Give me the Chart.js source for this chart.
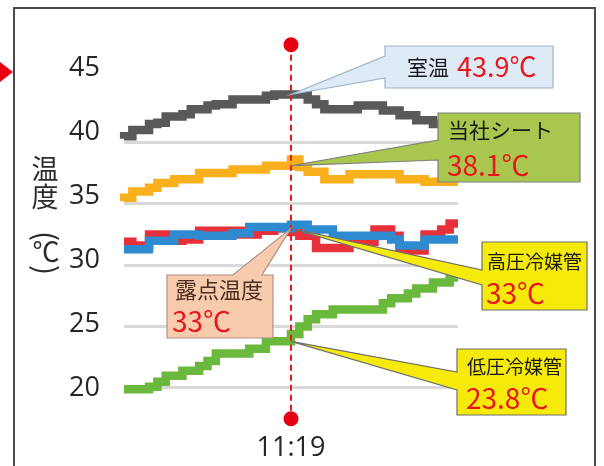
<!DOCTYPE html>
<html lang="ja">
<head>
<meta charset="utf-8">
<script src="https://cdn.jsdelivr.net/npm/chart.js@4.4.1/dist/chart.umd.min.js"></script>
<style>
  html, body { margin: 0; padding: 0; background: #fff; }
  #wrap { width: 604px; height: 466px; position: relative; }
</style>
</head>
<body>
<div id="wrap"><canvas id="tempChart"></canvas></div>
<script>
/* ---- data ---- */
const markIndex = 20;
const markTime = '11:19';

const roomTemp = [40.3, 40.5, 41.0, 41.0, 41.5, 41.6, 42.1, 42.1, 42.3, 42.7, 42.7, 43.0, 43.1, 43.1, 43.5, 43.5, 43.5, 43.5, 43.8, 43.9,
  43.9, 43.9, 43.9, 43.5, 43.1, 42.7, 42.7, 42.7, 42.7, 43.0, 43.0, 43.0, 42.6, 42.6, 42.2, 42.2, 41.8, 41.8, 41.5, 41.5, 41.5];
const sheetTemp = [35.2, 35.5, 36.0, 36.0, 36.3, 36.7, 36.7, 37.0, 37.0, 37.0, 37.5, 37.5, 37.5, 37.5, 37.8, 37.8, 37.8, 37.8, 38.1, 38.1,
  38.1, 38.6, 38.0, 37.6, 37.6, 37.0, 37.0, 37.0, 37.4, 37.4, 37.4, 37.4, 37.4, 37.4, 37.0, 37.0, 37.0, 36.8, 36.8, 36.8, 36.8];
const highPipe = [31.3, 31.3, 31.3, 31.3, 32.0, 32.0, 32.0, 32.5, 32.5, 32.5, 32.4, 32.4, 32.4, 32.4, 32.6, 32.6, 33.1, 33.1, 33.1, 33.1,
  33.0, 33.3, 33.3, 32.9, 32.9, 32.9, 32.4, 32.4, 32.4, 32.4, 32.4, 32.4, 32.4, 32.1, 31.6, 31.6, 31.6, 32.1, 32.1, 32.1, 32.1];
const dewPoint = [31.9, 31.9, 31.6, 31.6, 32.5, 32.5, 32.0, 32.0, 32.1, 32.1, 32.8, 32.8, 32.8, 32.8, 32.8, 32.5, 32.5, 32.8, 32.8, 33.0,
  33.0, 32.7, 32.4, 32.4, 31.4, 31.4, 31.4, 31.4, 31.9, 31.9, 31.9, 32.9, 32.9, 32.4, 31.2, 31.2, 31.2, 32.5, 32.5, 32.9, 33.4];
const lowPipe = [19.9, 19.9, 19.9, 19.9, 20.1, 20.5, 21.0, 21.0, 21.4, 21.4, 21.8, 22.2, 22.8, 22.8, 22.8, 22.8, 23.2, 23.2, 23.8, 23.8,
  23.8, 24.4, 25.0, 25.6, 26.0, 26.0, 26.4, 26.4, 26.4, 26.4, 26.4, 26.4, 26.9, 27.3, 27.3, 27.7, 28.1, 28.1, 28.6, 28.6, 29.0];

const calloutNames = ['室温', '当社シート', '露点温度', '高圧冷媒管', '低圧冷媒管'];
const calloutValues = [43.9, 38.1, 33, 33, 23.8];

const xLabels = Array.from({ length: roomTemp.length }, (_, i) => i === markIndex ? markTime : '');

/* ---- look of the callouts (pixels) ---- */
const calloutStyle = [
  { box: [385, 46, 553, 88], side: 'left', base: [56, 78], fill: '#deebf7', stroke: '#9fb3c8',
    inline: true, name: [407, 67, 21], value: [0, 67, 27] },
  { box: [438, 113, 580, 182], side: 'left', base: [140, 160], fill: '#a9c74e', stroke: '#7f7f7f',
    name: [448, 130, 21], value: [447, 165, 28] },
  { box: [167, 275, 273, 338], side: 'top', base: [233, 262], fill: '#f8cbad', stroke: '#b09088',
    name: [175, 290, 22], value: [172, 321, 28], nameColor: '#4a2e22' },
  { box: [482, 242, 587, 310], side: 'left', base: [270, 285], fill: '#f6ea0a', stroke: '#6f6f6f',
    name: [487, 262, 19], value: [486, 293, 28] },
  { box: [457, 349, 566, 415], side: 'left', base: [372, 390], fill: '#f6ea0a', stroke: '#6f6f6f',
    name: [467, 367, 19], value: [466, 398, 28] }
];

const JP = "'Noto Sans CJK JP', 'Noto Sans', sans-serif";
const NUM = "'Open Sans', 'Noto Sans CJK JP', sans-serif";
const RED = '#e8151b';

function keepFives(axis) {
  axis.ticks = axis.ticks.filter(t => Math.abs(t.value % 5) < 1e-6);
}

/* frame, marker triangle and the vertical axis title */
const framePlugin = {
  id: 'frame',
  beforeDraw(chart) {
    const ctx = chart.ctx;
    ctx.save();
    ctx.fillStyle = '#fff';
    ctx.fillRect(0, 0, chart.width, chart.height);
    ctx.strokeStyle = '#4a4a4a';
    ctx.lineWidth = 2;
    ctx.beginPath();
    ctx.moveTo(14, chart.height);
    ctx.lineTo(14, 8);
    ctx.lineTo(595, 8);
    ctx.lineTo(595, chart.height);
    ctx.stroke();
    ctx.fillStyle = '#e60012';
    ctx.beginPath();
    ctx.moveTo(0, 62); ctx.lineTo(13, 72); ctx.lineTo(0, 82);
    ctx.closePath();
    ctx.fill();

    ctx.fillStyle = '#2b2b2b';
    ctx.font = '27px ' + JP;
    ctx.textAlign = 'center';
    ctx.textBaseline = 'middle';
    ctx.fillText('温', 45, 169);
    ctx.fillText('度', 45, 197);
    ctx.fillText('℃', 46, 252);
    ctx.font = '30px ' + JP;
    [['(', 236], [')', 270]].forEach(([ch, y]) => {
      ctx.save();
      ctx.translate(46, y);
      ctx.rotate(Math.PI / 2);
      ctx.fillText(ch, 0, 0);
      ctx.restore();
    });
    ctx.restore();
  }
};

function drawCallout(ctx, st, name, value, tipX, tipY) {
  const [x0, y0, x1, y1] = st.box;
  ctx.beginPath();
  if (st.side === 'left') {
    ctx.moveTo(x0, y0); ctx.lineTo(x1, y0); ctx.lineTo(x1, y1); ctx.lineTo(x0, y1);
    ctx.lineTo(x0, st.base[1]); ctx.lineTo(tipX, tipY); ctx.lineTo(x0, st.base[0]);
  } else {
    ctx.moveTo(x0, y0); ctx.lineTo(st.base[0], y0); ctx.lineTo(tipX, tipY); ctx.lineTo(st.base[1], y0);
    ctx.lineTo(x1, y0); ctx.lineTo(x1, y1); ctx.lineTo(x0, y1);
  }
  ctx.closePath();
  ctx.fillStyle = st.fill;
  ctx.fill();
  ctx.strokeStyle = st.stroke;
  ctx.lineWidth = 1.2;
  ctx.stroke();

  ctx.textAlign = 'left';
  ctx.textBaseline = 'middle';
  ctx.fillStyle = st.nameColor || '#1a1a1a';
  ctx.font = st.name[2] + 'px ' + JP;
  ctx.fillText(name, st.name[0], st.name[1]);
  let vx = st.value[0];
  if (st.inline) vx = st.name[0] + ctx.measureText(name).width + 8;
  ctx.fillStyle = RED;
  ctx.font = st.value[2] + 'px ' + JP;
  ctx.fillText(value + '℃', vx, st.value[1]);
}

/* dashed time marker and the callouts */
const markerPlugin = {
  id: 'marker',
  afterDatasetsDraw(chart) {
    const ctx = chart.ctx;
    const xs = chart.scales.x, ys = chart.scales.y;
    const area = chart.chartArea;
    const mx = xs.getPixelForValue(markIndex);
    const top = area.top - 24, bottom = area.bottom;
    ctx.save();
    ctx.strokeStyle = RED;
    ctx.lineWidth = 2;
    ctx.setLineDash([6, 4]);
    ctx.beginPath();
    ctx.moveTo(mx, top);
    ctx.lineTo(mx, bottom);
    ctx.stroke();
    ctx.setLineDash([]);

    calloutStyle.forEach((st, i) => {
      drawCallout(ctx, st, calloutNames[i], calloutValues[i], mx, ys.getPixelForValue(calloutValues[i]));
    });

    ctx.fillStyle = '#e60012';
    [top, bottom].forEach(y => {
      ctx.beginPath();
      ctx.arc(mx, y, 7.5, 0, Math.PI * 2);
      ctx.fill();
    });
    ctx.restore();
  }
};

const lineStyle = { stepped: 'after', pointRadius: 0, borderWidth: 8.5, fill: false,
  borderCapStyle: 'butt', borderJoinStyle: 'miter', tension: 0 };

new Chart(document.getElementById('tempChart'), {
  type: 'line',
  data: {
    labels: xLabels,
    datasets: [
      Object.assign({ label: '室温', data: roomTemp, borderColor: '#595959', order: 1 }, lineStyle),
      Object.assign({ label: '当社シート', data: sheetTemp, borderColor: '#f9b01c', order: 1 }, lineStyle),
      Object.assign({ label: '高圧冷媒管', data: highPipe, borderColor: '#2e8bd0', order: 2 }, lineStyle),
      Object.assign({ label: '露点温度', data: dewPoint, borderColor: '#e8303a', order: 3 }, lineStyle),
      Object.assign({ label: '低圧冷媒管', data: lowPipe, borderColor: '#6ab83c', order: 1 }, lineStyle)
    ]
  },
  options: {
    responsive: true,
    maintainAspectRatio: false,
    animation: false,
    layout: { padding: { top: 68.7, right: 146, bottom: 0, left: 0 } },
    plugins: { legend: { display: false }, tooltip: { enabled: false } },
    scales: {
      x: {
        grid: { display: false, drawTicks: false },
        border: { display: false },
        ticks: { autoSkip: false, maxRotation: 0, padding: 13, color: '#262626', font: { family: NUM, size: 27 } },
        afterFit: s => { s.height = 47.3; }
      },
      y: {
        position: 'left', weight: 0, min: 17.5, max: 46,
        ticks: { display: false, stepSize: 5 },
        grid: { color: '#d9d9d9', lineWidth: 3, drawTicks: false },
        border: { display: false },
        afterBuildTicks: keepFives,
        afterFit: s => { s.width = 0; }
      },
      yLabels: {
        position: 'left', weight: 1, min: 17.6, max: 45,
        ticks: { stepSize: 5, padding: 24, color: '#262626', font: { family: NUM, size: 27 } },
        grid: { display: false, drawTicks: false },
        border: { display: false },
        afterBuildTicks: keepFives,
        afterFit: s => { s.width = 124; }
      }
    }
  },
  plugins: [framePlugin, markerPlugin]
});
</script>
</body>
</html>
